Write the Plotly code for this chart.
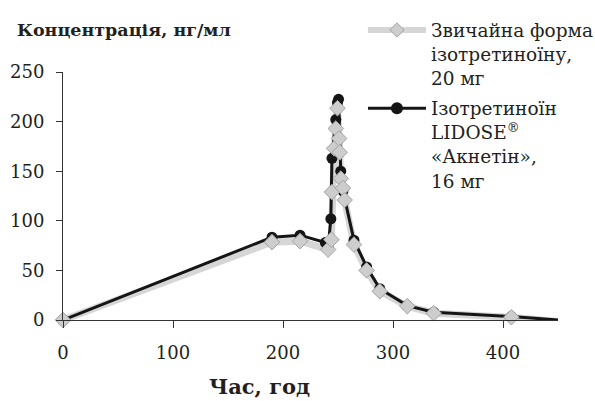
import plotly.graph_objects as go

# Black series: Ізотретиноїн LIDOSE «Акнетін», 16 мг
hours_lidose = [0, 190, 215.5, 238.5, 241, 243.5, 244.5, 248, 249.5, 250.5, 252.5, 254.5, 264.5, 276, 288, 313, 337, 407.6, 450]
conc_lidose = [0, 83.5, 85.5, 78, 73, 102, 163, 202, 219, 222.5, 150, 130, 80.5, 53.5, 31.5, 14.5, 7.8, 3.5, 0]

# Grey series: Звичайна форма ізотретиноїну, 20 мг
hours_std = [0, 190, 215.5, 241, 244, 244.5, 246.5, 248, 249.5, 251, 251.5, 252.5, 254.5, 256, 264.5, 276, 288, 313, 337, 407.6, 450]
conc_std = [0, 78.5, 79.5, 71, 81, 129, 173, 193, 213.5, 183, 169, 142.5, 133, 121, 76, 50, 29, 14, 6.8, 2.8, -1.5]
marker_std_hours = hours_std[:-1]
marker_std_conc = conc_std[:-1]
marker_lidose_hours = hours_lidose[:-1]
marker_lidose_conc = conc_lidose[:-1]

name_std = "Звичайна форма<br>ізотретиноїну,<br>20 мг"
name_lidose = "Ізотретиноїн<br>LIDOSE<sup>®</sup><br>«Акнетін»,<br>16 мг"

x_ticks = [0, 100, 200, 300, 400]
y_ticks = [0, 50, 100, 150, 200, 250]

FONT = "DejaVu Serif"
GREY_LINE = "#d6d6d6"
GREY_FILL = "#cdcdcd"
GREY_EDGE = "#a3a3a3"
BLACK = "#151515"
TEXT = "#231f20"

fig = go.Figure()

# grey line (thick)
fig.add_trace(go.Scatter(
    x=hours_std, y=conc_std, mode="lines",
    line=dict(color=GREY_LINE, width=7),
    showlegend=False, hoverinfo="skip"))

# black series
fig.add_trace(go.Scatter(
    x=hours_lidose, y=conc_lidose, mode="lines",
    line=dict(color=BLACK, width=3),
    showlegend=False, hoverinfo="skip"))
fig.add_trace(go.Scatter(
    x=marker_lidose_hours, y=marker_lidose_conc, mode="markers",
    marker=dict(symbol="circle", size=11, color=BLACK, line=dict(width=0)),
    showlegend=False, hoverinfo="skip"))

# grey markers on top
fig.add_trace(go.Scatter(
    x=marker_std_hours, y=marker_std_conc, mode="markers",
    marker=dict(symbol="diamond", size=12, color=GREY_FILL, line=dict(color=GREY_EDGE, width=1)),
    showlegend=False, hoverinfo="skip"))

# legend-only traces
fig.add_trace(go.Scatter(
    x=[None], y=[None], mode="lines+markers", name=name_std, legendgroup="a",
    line=dict(color=GREY_LINE, width=6),
    marker=dict(symbol="diamond", size=11, color=GREY_FILL, line=dict(color=GREY_EDGE, width=1))))
fig.add_trace(go.Scatter(
    x=[None], y=[None], mode="lines+markers", name=name_lidose, legendgroup="b",
    line=dict(color=BLACK, width=3),
    marker=dict(symbol="circle", size=12, color=BLACK)))

fig.update_layout(
    width=595, height=401,
    margin=dict(l=63, r=37, t=72, b=81, autoexpand=False),
    paper_bgcolor="white", plot_bgcolor="white",
    font=dict(family=FONT, size=18, color=TEXT),
    showlegend=True,
    legend=dict(
        x=0.606, xanchor="left", y=1.244, yanchor="top",
        bgcolor="rgba(0,0,0,0)", font=dict(family=FONT, size=18.5, color=TEXT),
        valign="top", traceorder="grouped", tracegroupgap=3, itemwidth=58,
    ),
    xaxis=dict(
        range=[0, 450], tickvals=x_ticks, ticktext=[str(v) for v in x_ticks],
        showline=True, linecolor="#333", linewidth=1,
        ticks="outside", ticklen=7, tickcolor="#333",
        showgrid=False, zeroline=False, automargin=False,
        tickfont=dict(family=FONT, size=18, color=TEXT),
        ticklabelstandoff=9,
    ),
    yaxis=dict(
        range=[0, 250], tickvals=y_ticks, ticktext=[str(v) for v in y_ticks],
        showline=True, linecolor="#333", linewidth=1,
        ticks="outside", ticklen=6, tickcolor="#333",
        showgrid=False, zeroline=False, automargin=False,
        tickfont=dict(family=FONT, size=18, color=TEXT),
        ticklabelstandoff=8,
    ),
    annotations=[
        dict(text="<b>Концентрація, нг/мл</b>", xref="paper", yref="paper",
             x=-0.097, y=1.169, xanchor="left", yanchor="middle", showarrow=False,
             font=dict(family=FONT, size=17.5, color=TEXT)),
        dict(text="<b>Час, год</b>", xref="paper", yref="paper",
             x=0.396, y=-0.27, xanchor="center", yanchor="middle", showarrow=False,
             font=dict(family=FONT, size=21, color=TEXT)),
    ],
)

fig.update_traces(cliponaxis=False)

fig.write_html("out.html")
